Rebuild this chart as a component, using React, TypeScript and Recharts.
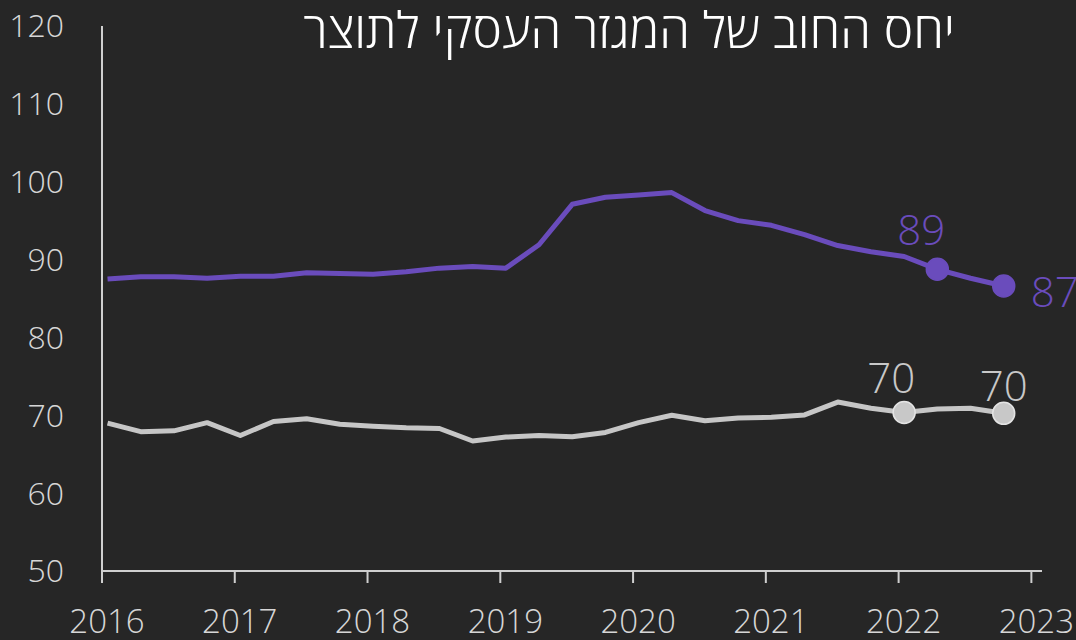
import { LineChart, Line, XAxis, YAxis } from 'recharts';

const quarters = [
  '2016Q1', '2016Q2', '2016Q3', '2016Q4',
  '2017Q1', '2017Q2', '2017Q3', '2017Q4',
  '2018Q1', '2018Q2', '2018Q3', '2018Q4',
  '2019Q1', '2019Q2', '2019Q3', '2019Q4',
  '2020Q1', '2020Q2', '2020Q3', '2020Q4',
  '2021Q1', '2021Q2', '2021Q3', '2021Q4',
  '2022Q1', '2022Q2', '2022Q3', '2022Q4',
];

// purple series
const businessDebt = [
  87.5, 87.8, 87.8, 87.6, 87.85, 87.85, 88.3, 88.2, 88.1, 88.45, 88.9, 89.1, 88.9, 91.9,
  97.1, 98.0, 98.3, 98.6, 96.3, 95.0, 94.4, 93.2, 91.8, 91.0, 90.4, 88.75, 87.6, 86.6,
];

// gray series
const otherDebt = [
  69.0, 67.9, 68.0, 69.05, 67.4, 69.2, 69.55, 68.85, 68.6, 68.4, 68.3, 66.7, 67.2, 67.4,
  67.25, 67.8, 69.05, 70.0, 69.3, 69.65, 69.75, 70.05, 71.7, 70.9, 70.35, 70.8, 70.9, 70.25,
];

const yearTicks = [2016, 2017, 2018, 2019, 2020, 2021, 2022, 2023];
const valueTicks = [50, 60, 70, 80, 90, 100, 110, 120];

const businessMarked = [25, 27];
const otherMarked = [24, 27];

const title = 'יחס החוב של המגזר העסקי לתוצר';

const PURPLE = '#6a4cbc';
const GRAY = '#c6c6c6';
const BG = '#262626';
const AXIS = '#cfcfcf';
const FONT = "'Open Sans', 'DejaVu Sans', sans-serif";

// each quarter is plotted at the middle of its first month
const data = quarters.map((q, i) => ({
  x: Number(q.slice(0, 4)) + (Number(q.slice(5)) - 1) / 4 + 1 / 24,
  business: businessDebt[i],
  other: otherDebt[i],
}));

const makeDot = (marked: number[], fill: string, stroke: string) => (props: any) => {
  const { cx, cy, index } = props;
  if (!marked.includes(index)) return <g key={`d${index}`} />;
  return <circle key={`d${index}`} cx={cx} cy={cy} r={11} fill={fill} stroke={stroke} strokeWidth={1.5} />;
};

const labelOffsets: Record<string, Record<number, [number, number]>> = {
  business: { 25: [-16, -41], 27: [51, 4] },
  other: { 24: [-13, -36], 27: [0, -29] },
};

const makeLabel = (key: string, color: string) => (props: any) => {
  const { x, y, index, value } = props;
  const off = labelOffsets[key][index];
  if (!off) return null;
  return (
    <text
      key={`l${index}`}
      x={x + off[0]}
      y={y + off[1]}
      textAnchor="middle"
      dominantBaseline="central"
      fill={color}
      fontSize={42}
      fontWeight={300}
      fontFamily={FONT}
    >
      {Math.round(value)}
    </text>
  );
};

const App = () => {
  return (
    <div
      style={{
        position: 'fixed',
        left: 0,
        top: 0,
        width: 1076,
        height: 640,
        backgroundColor: BG,
        overflow: 'hidden',
      }}
    >
      <div
        style={{
          position: 'absolute',
          right: 121,
          top: 1,
          direction: 'rtl',
          color: '#ffffff',
          fontFamily: FONT,
          fontWeight: 300,
          fontSize: 49.5,
          lineHeight: '56px',
          whiteSpace: 'nowrap',
        }}
      >
        {title}
      </div>
      <LineChart width={1076} height={640} data={data} margin={{ top: 26, right: 34, bottom: 0, left: 0 }}>
        <XAxis
          dataKey="x"
          type="number"
          domain={[2016, 2023.08]}
          ticks={yearTicks}
          allowDataOverflow
          height={69}
          tickSize={12}
          tickMargin={27}
          axisLine={{ stroke: AXIS, strokeWidth: 2 }}
          tickLine={{ stroke: AXIS, strokeWidth: 2 }}
          tick={{ fill: '#d6d6d6', fontSize: 33, fontWeight: 300, fontFamily: FONT, dx: 5 }}
        />
        <YAxis
          type="number"
          domain={[50, 120]}
          ticks={valueTicks}
          width={102}
          tickLine={false}
          tickSize={0}
          tickMargin={38}
          axisLine={{ stroke: AXIS, strokeWidth: 2 }}
          tick={{ fill: '#d6d6d6', fontSize: 32, fontWeight: 300, fontFamily: FONT }}
        />
        <Line
          dataKey="other"
          stroke={GRAY}
          strokeWidth={5}
          strokeLinejoin="round"
          dot={makeDot(otherMarked, '#c8c8c8', '#e4e4e4')}
          activeDot={false}
          label={makeLabel('other', '#c8c8c8')}
          isAnimationActive={false}
        />
        <Line
          dataKey="business"
          stroke={PURPLE}
          strokeWidth={5}
          strokeLinejoin="round"
          dot={makeDot(businessMarked, PURPLE, PURPLE)}
          activeDot={false}
          label={makeLabel('business', PURPLE)}
          isAnimationActive={false}
        />
      </LineChart>
    </div>
  );
};

export default App;
